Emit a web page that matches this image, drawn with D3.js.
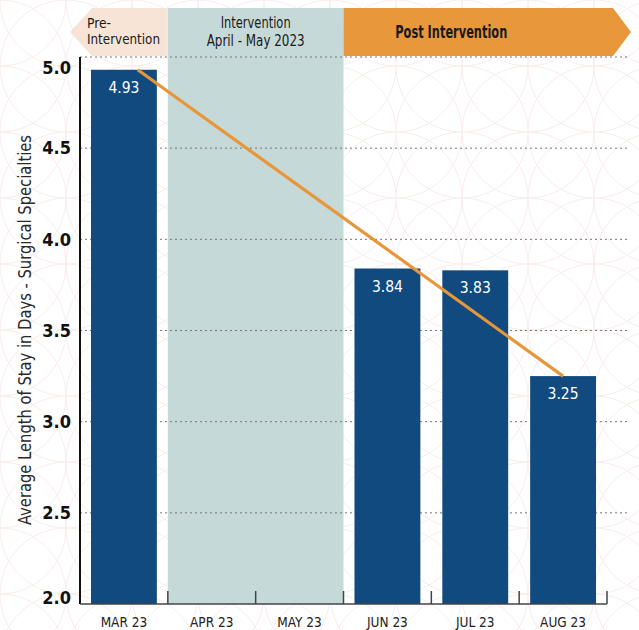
<!DOCTYPE html>
<html>
<head>
<meta charset="utf-8">
<script src="https://cdn.jsdelivr.net/npm/d3@7"></script>
<style>
  html, body { margin: 0; padding: 0; background: #fff; }
  svg { display: block; }
  text { font-family: "Liberation Sans Narrow", "DejaVu Sans Condensed", "Open Sans", sans-serif; }
</style>
</head>
<body>
<svg id="chart" width="639" height="630"></svg>
<script>
// Monthly average length of stay (days), surgical specialties
const months = ["MAR 23", "APR 23", "MAY 23", "JUN 23", "JUL 23", "AUG 23"];
const stayValues = [4.93, null, null, 3.84, 3.83, 3.25];
const yTicks = [2.0, 2.5, 3.0, 3.5, 4.0, 4.5, 5.0];
const yTitle = "Average Length of Stay in Days - Surgical Specialties";
// Phase banners along the top
const phases = [
  { lines: ["Pre-", "Intervention"], from: "MAR 23", to: "MAR 23" },
  { lines: ["Intervention", "April - May 2023"], from: "APR 23", to: "MAY 23" },
  { lines: ["Post Intervention"], from: "JUN 23", to: "AUG 23" }
];
const trendFrom = "MAR 23", trendTo = "AUG 23";

const svg = d3.select("#chart");
const W = 639, H = 630;
const plotLeft = 80, plotRight = 607, plotTop = 57, plotBottom = 604;

// narrow a text element to a set width (condensed look)
function fit(sel, w) {
  sel.attr("textLength", w).attr("lengthAdjust", "spacingAndGlyphs");
  return sel;
}

// faint floral background made of overlapping circles
const defs = svg.append("defs");
const r = 66;
const pat = defs.append("pattern")
  .attr("id", "floral").attr("patternUnits", "userSpaceOnUse")
  .attr("width", r * 2).attr("height", r * 2);
[[0, 0], [r * 2, 0], [0, r * 2], [r * 2, r * 2], [r, r], [r, 0], [0, r], [r * 2, r], [r, r * 2]].forEach(([cx, cy]) => {
  pat.append("circle").attr("cx", cx).attr("cy", cy).attr("r", r)
    .attr("fill", "none").attr("stroke", "#f9ecea").attr("stroke-width", 1);
});
svg.append("rect").attr("width", W).attr("height", H).attr("fill", "#fff");
svg.append("rect").attr("width", W).attr("height", H).attr("fill", "url(#floral)");

const x = d3.scaleBand().domain(months).range([plotLeft, plotRight]).paddingInner(0.25).paddingOuter(0.125);
const step = x.step();
const bandStart = m => x(m) - step * x.paddingInner() / 2;
const y = d3.scaleLinear().domain([2, 5]).range([plotBottom, plotTop]);

// intervention shading
const inter = phases[1];
svg.append("rect")
  .attr("x", bandStart(inter.from))
  .attr("y", 8)
  .attr("width", bandStart(inter.to) + step - bandStart(inter.from))
  .attr("height", plotBottom - 8)
  .attr("fill", "#c6d9d9");

// gridlines
svg.append("g").selectAll("line").data(yTicks.filter(t => t > 2)).join("line")
  .attr("x1", plotLeft).attr("x2", 629)
  .attr("y1", d => y(d)).attr("y2", d => y(d))
  .attr("stroke", "#777").attr("stroke-width", 1)
  .attr("stroke-dasharray", "2,3");

// banners
const bTop = 8, bBot = 56, bMid = (bTop + bBot) / 2;
const pre = phases[0];
const preX0 = bandStart(pre.from), preX1 = preX0 + step;
svg.append("path")
  .attr("d", `M${preX0 + 12},${bTop} L${preX1},${bTop} L${preX1},${bBot} L${preX0 + 12},${bBot} L${preX0 - 10},${bMid} Z`)
  .attr("fill", "#f8e4d6");
const preWidths = [24, 73];
pre.lines.forEach((t, i) => {
  fit(svg.append("text").attr("x", preX0 + 7).attr("y", 27.5 + i * 16)
    .attr("font-size", 13.5).attr("fill", "#1a1a1a").text(t), preWidths[i]);
});

const post = phases[2];
const postX0 = bandStart(post.from), postX1 = bandStart(post.to) + step + 6;
svg.append("path")
  .attr("d", `M${postX0},${bTop} L${postX1},${bTop} L${postX1 + 18},${bMid} L${postX1},${bBot} L${postX0},${bBot} Z`)
  .attr("fill", "#e8983a");
fit(svg.append("text").attr("x", (postX0 + postX1) / 2 - 27).attr("y", bMid + 6)
  .attr("text-anchor", "middle").attr("font-size", 17).attr("font-weight", 600)
  .attr("fill", "#1a1a1a").text(post.lines[0]), 112);

const interMid = bandStart(inter.from) + (bandStart(inter.to) + step - bandStart(inter.from)) / 2;
const interWidths = [70, 98];
inter.lines.forEach((t, i) => {
  fit(svg.append("text").attr("x", interMid).attr("y", 28 + i * 18)
    .attr("text-anchor", "middle").attr("font-size", 15).attr("fill", "#1a1a1a").text(t), interWidths[i]);
});

// bars
const data = months.map((m, i) => ({ m, v: stayValues[i] })).filter(d => d.v != null);
svg.append("g").selectAll("rect").data(data).join("rect")
  .attr("x", d => x(d.m)).attr("width", x.bandwidth())
  .attr("y", d => y(d.v)).attr("height", d => y(2) - y(d.v))
  .attr("fill", "#114a7f");

// value labels
svg.append("g").selectAll("text").data(data).join("text")
  .attr("x", d => x(d.m) + x.bandwidth() / 2)
  .attr("y", d => y(d.v) + 23)
  .attr("text-anchor", "middle").attr("font-size", 15.5)
  .attr("fill", "#fff").text(d => d.v.toFixed(2));

// trend line between first and last month
const vFrom = stayValues[months.indexOf(trendFrom)], vTo = stayValues[months.indexOf(trendTo)];
svg.append("line")
  .attr("x1", x(trendFrom) + x.bandwidth() * 0.71).attr("y1", y(vFrom))
  .attr("x2", x(trendTo) + x.bandwidth() / 2).attr("y2", y(vTo))
  .attr("stroke", "#e8963a").attr("stroke-width", 3.2).attr("stroke-linecap", "butt");

// y axis
svg.append("line").attr("x1", plotLeft).attr("x2", plotLeft).attr("y1", plotTop).attr("y2", plotBottom)
  .attr("stroke", "#111").attr("stroke-width", 2);
svg.append("g").selectAll("text").data(yTicks).join("text")
  .attr("x", 71)
  .attr("y", d => y(d) + (d === 5 ? 11 : d === 2 ? -6 : 0))
  .attr("dy", "0.35em")
  .attr("text-anchor", "end").attr("font-size", 18).attr("font-weight", "bold")
  .attr("fill", "#111").text(d => d.toFixed(1));

fit(svg.append("text")
  .attr("transform", `translate(31,330) rotate(-90)`)
  .attr("text-anchor", "middle").attr("font-size", 18).attr("fill", "#2a2a2a")
  .text(yTitle), 390);

// x axis with boundary ticks pointing up
svg.append("line").attr("x1", plotLeft).attr("x2", plotRight).attr("y1", plotBottom).attr("y2", plotBottom)
  .attr("stroke", "#444").attr("stroke-width", 1.5);
const bounds = months.map(m => bandStart(m) + step);
svg.append("g").selectAll("line").data(bounds).join("line")
  .attr("x1", d => d).attr("x2", d => d)
  .attr("y1", plotBottom).attr("y2", plotBottom - 13)
  .attr("stroke", "#444").attr("stroke-width", 1.5);
svg.append("g").selectAll("text").data(months).join("text")
  .attr("x", d => x(d) + x.bandwidth() / 2).attr("y", 627)
  .attr("text-anchor", "middle").attr("font-size", 13.5).attr("fill", "#222")
  .text(d => d);
</script>
</body>
</html>
